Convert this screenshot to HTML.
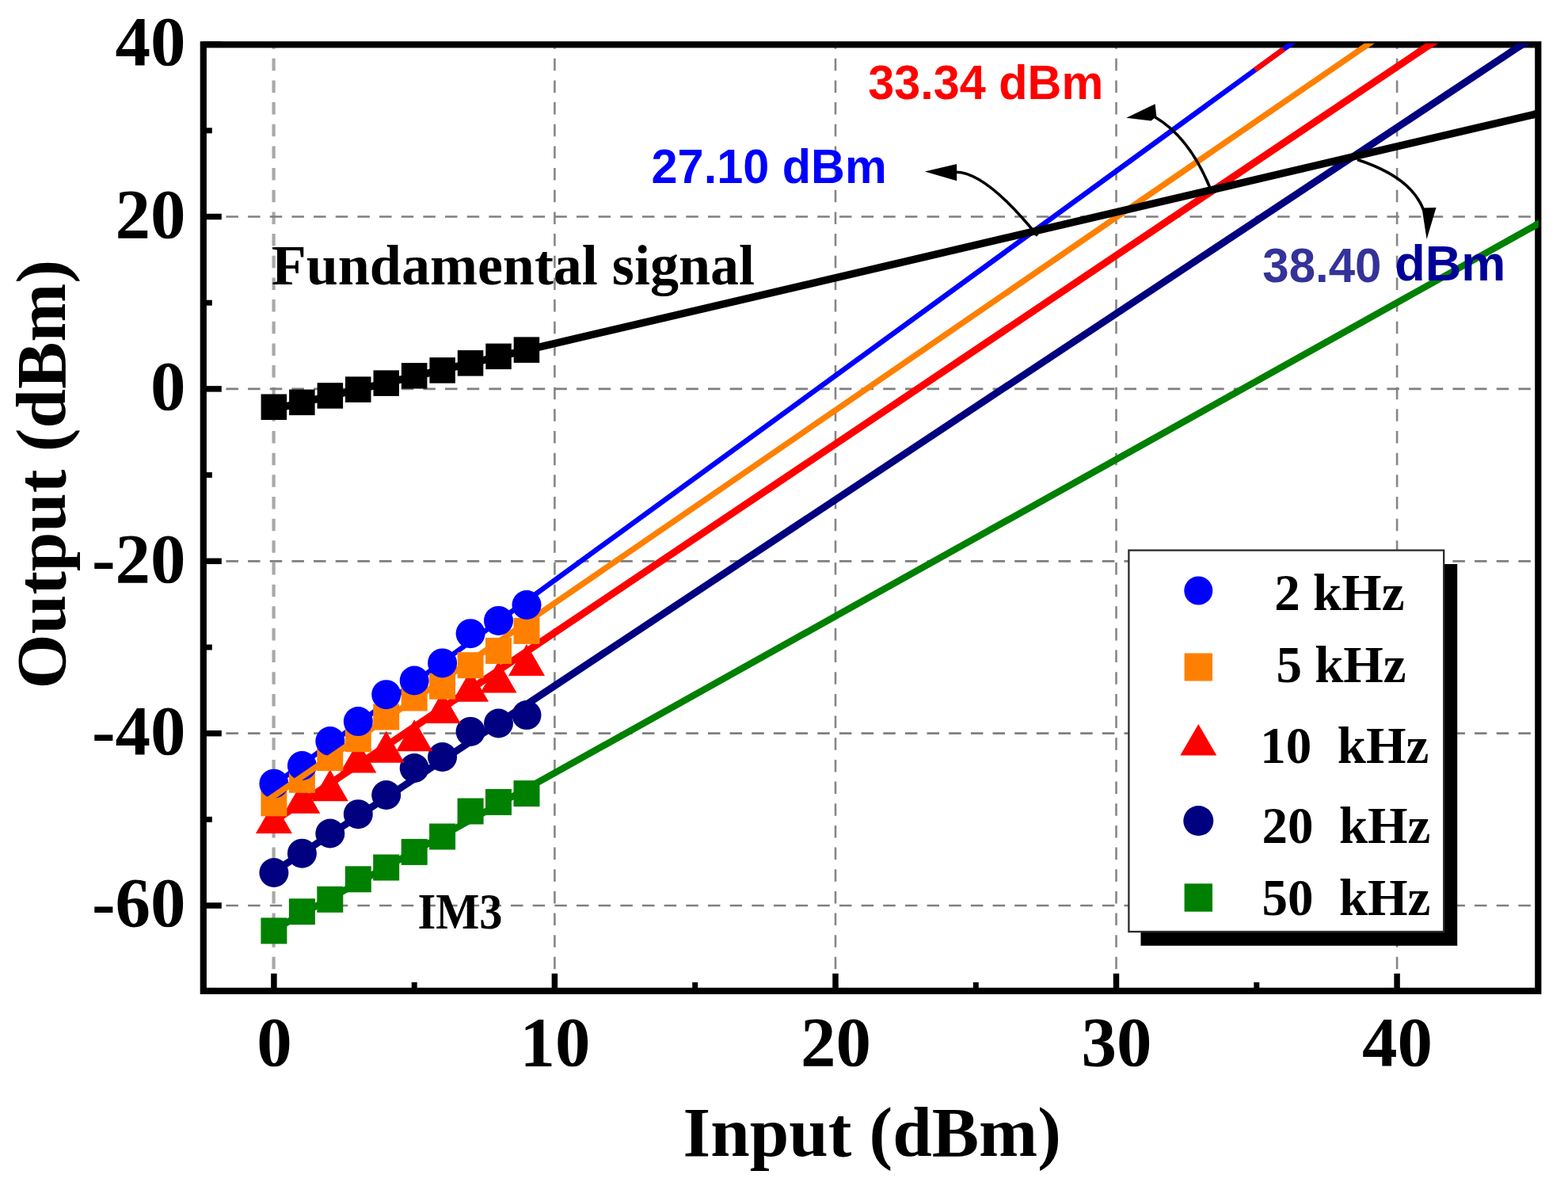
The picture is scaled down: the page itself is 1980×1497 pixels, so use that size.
<!DOCTYPE html><html><head><meta charset="utf-8"><style>html,body{margin:0;padding:0;background:#fff;overflow:hidden;}svg{display:block;}</style></head><body>
<svg width="1980" height="1497" viewBox="0 0 1980 1497">
<rect width="1980" height="1497" fill="#fff"/>
<g stroke="#868686" stroke-width="2.6" stroke-dasharray="15.5 12.16" stroke-dashoffset="10.16" fill="none"><line x1="700.4" y1="56.3" x2="700.4" y2="1250.8"/><line x1="1055.0" y1="56.3" x2="1055.0" y2="1250.8"/><line x1="1409.5" y1="56.3" x2="1409.5" y2="1250.8"/><line x1="1764.1" y1="56.3" x2="1764.1" y2="1250.8"/></g>
<line x1="345.6" y1="56.3" x2="345.6" y2="1250.8" stroke="#a8a8a8" stroke-width="4.2" stroke-dasharray="15.5 12.16" stroke-dashoffset="10.16"/>
<g stroke="#7f7f7f" stroke-width="2.7" stroke-dasharray="15.5 12.16" stroke-dashoffset="26.68" fill="none"><line x1="256.8" y1="273.5" x2="1942.3" y2="273.5"/><line x1="256.8" y1="490.9" x2="1942.3" y2="490.9"/><line x1="256.8" y1="708.3" x2="1942.3" y2="708.3"/><line x1="256.8" y1="925.7" x2="1942.3" y2="925.7"/><line x1="256.8" y1="1143.0" x2="1942.3" y2="1143.0"/></g>
<g stroke="#000" fill="none"><line x1="345.9" y1="1250.8" x2="345.9" y2="1228.8" stroke-width="7.5"/><line x1="700.4" y1="1250.8" x2="700.4" y2="1228.8" stroke-width="7.5"/><line x1="1055.0" y1="1250.8" x2="1055.0" y2="1228.8" stroke-width="7.5"/><line x1="1409.5" y1="1250.8" x2="1409.5" y2="1228.8" stroke-width="7.5"/><line x1="1764.1" y1="1250.8" x2="1764.1" y2="1228.8" stroke-width="7.5"/><line x1="523.2" y1="1250.8" x2="523.2" y2="1239.8" stroke-width="7"/><line x1="877.7" y1="1250.8" x2="877.7" y2="1239.8" stroke-width="7"/><line x1="1232.3" y1="1250.8" x2="1232.3" y2="1239.8" stroke-width="7"/><line x1="1586.8" y1="1250.8" x2="1586.8" y2="1239.8" stroke-width="7"/><line x1="256.8" y1="56.1" x2="279.8" y2="56.1" stroke-width="7.5"/><line x1="256.8" y1="273.5" x2="279.8" y2="273.5" stroke-width="7.5"/><line x1="256.8" y1="490.9" x2="279.8" y2="490.9" stroke-width="7.5"/><line x1="256.8" y1="708.3" x2="279.8" y2="708.3" stroke-width="7.5"/><line x1="256.8" y1="925.7" x2="279.8" y2="925.7" stroke-width="7.5"/><line x1="256.8" y1="1143.0" x2="279.8" y2="1143.0" stroke-width="7.5"/><line x1="256.8" y1="164.8" x2="267.8" y2="164.8" stroke-width="7"/><line x1="256.8" y1="382.2" x2="267.8" y2="382.2" stroke-width="7"/><line x1="256.8" y1="599.6" x2="267.8" y2="599.6" stroke-width="7"/><line x1="256.8" y1="817.0" x2="267.8" y2="817.0" stroke-width="7"/><line x1="256.8" y1="1034.3" x2="267.8" y2="1034.3" stroke-width="7"/></g>
<defs><clipPath id="plot"><rect x="256.8" y="54.8" width="1686.0" height="1196.0"/></clipPath><clipPath id="edge"><rect x="256.8" y="54.8" width="1685.5" height="8"/><rect x="1935.8" y="56.3" width="7" height="1194.5"/></clipPath></defs>
<g clip-path="url(#plot)"><line x1="345.9" y1="1173.5" x2="1948.3" y2="279.2" stroke="#008000" stroke-width="8.5"/><line x1="345.9" y1="1100.5" x2="1931.1" y2="50.3" stroke="#000080" stroke-width="9"/><line x1="345.9" y1="1036.6" x2="1814.7" y2="50.3" stroke="#ff0000" stroke-width="9"/><line x1="345.9" y1="1004.7" x2="1735.8" y2="50.3" stroke="#ff8000" stroke-width="7.5"/><line x1="345.9" y1="990.6" x2="1637.0" y2="50.3" stroke="#0000ff" stroke-width="6.5"/><line x1="1585" y1="88.2" x2="1621" y2="62.0" stroke="#ff0000" stroke-width="6.5"/><line x1="345.9" y1="516.4" x2="1948.3" y2="141.9" stroke="#000" stroke-width="9.5"/></g>
<g fill="#008000"><rect x="329.4" y="1158.4" width="33" height="33"/><rect x="364.9" y="1134.2" width="33" height="33"/><rect x="400.3" y="1118.8" width="33" height="33"/><rect x="435.8" y="1093.3" width="33" height="33"/><rect x="471.2" y="1078.5" width="33" height="33"/><rect x="506.7" y="1058.9" width="33" height="33"/><rect x="542.1" y="1039.5" width="33" height="33"/><rect x="577.6" y="1007.5" width="33" height="33"/><rect x="613.0" y="995.9" width="33" height="33"/><rect x="648.5" y="985.1" width="33" height="33"/></g>
<g fill="#000080"><circle cx="345.9" cy="1101.5" r="18.5"/><circle cx="381.4" cy="1077.2" r="18.5"/><circle cx="416.8" cy="1052.0" r="18.5"/><circle cx="452.3" cy="1027.7" r="18.5"/><circle cx="487.7" cy="1003.5" r="18.5"/><circle cx="523.2" cy="969.5" r="18.5"/><circle cx="558.6" cy="955.5" r="18.5"/><circle cx="594.1" cy="923.4" r="18.5"/><circle cx="629.5" cy="913.0" r="18.5"/><circle cx="665.0" cy="902.6" r="18.5"/></g>
<g fill="#ff0000"><path d="M345.9 1012.0L368.9 1052.0L322.9 1052.0Z"/><path d="M381.4 986.8L404.4 1026.8L358.4 1026.8Z"/><path d="M416.8 971.2L439.8 1011.2L393.8 1011.2Z"/><path d="M452.3 935.6L475.3 975.6L429.3 975.6Z"/><path d="M487.7 922.7L510.7 962.7L464.7 962.7Z"/><path d="M523.2 908.3L546.2 948.3L500.2 948.3Z"/><path d="M558.6 873.0L581.6 913.0L535.6 913.0Z"/><path d="M594.1 845.7L617.1 885.7L571.1 885.7Z"/><path d="M629.5 834.5L652.5 874.5L606.5 874.5Z"/><path d="M665.0 812.9L688.0 852.9L642.0 852.9Z"/></g>
<g fill="#ff8000"><rect x="329.4" y="997.3" width="33" height="33"/><rect x="364.9" y="967.8" width="33" height="33"/><rect x="400.3" y="940.1" width="33" height="33"/><rect x="435.8" y="916.2" width="33" height="33"/><rect x="471.2" y="888.5" width="33" height="33"/><rect x="506.7" y="864.5" width="33" height="33"/><rect x="542.1" y="849.7" width="33" height="33"/><rect x="577.6" y="823.2" width="33" height="33"/><rect x="613.0" y="805.0" width="33" height="33"/><rect x="648.5" y="779.9" width="33" height="33"/></g>
<g fill="#0000ff"><circle cx="345.9" cy="989.2" r="18.5"/><circle cx="381.4" cy="966.5" r="18.5"/><circle cx="416.8" cy="935.5" r="18.5"/><circle cx="452.3" cy="910.6" r="18.5"/><circle cx="487.7" cy="876.7" r="18.5"/><circle cx="523.2" cy="859.0" r="18.5"/><circle cx="558.6" cy="836.9" r="18.5"/><circle cx="594.1" cy="799.7" r="18.5"/><circle cx="629.5" cy="783.4" r="18.5"/><circle cx="665.0" cy="763.5" r="18.5"/></g>
<g fill="#000"><rect x="329.6" y="497.5" width="32.5" height="32.5"/><rect x="365.1" y="491.6" width="32.5" height="32.5"/><rect x="400.6" y="483.2" width="32.5" height="32.5"/><rect x="436.0" y="475.4" width="32.5" height="32.5"/><rect x="471.5" y="467.4" width="32.5" height="32.5"/><rect x="506.9" y="458.1" width="32.5" height="32.5"/><rect x="542.4" y="451.2" width="32.5" height="32.5"/><rect x="577.8" y="442.1" width="32.5" height="32.5"/><rect x="613.3" y="433.6" width="32.5" height="32.5"/><rect x="648.7" y="425.4" width="32.5" height="32.5"/></g>
<line x1="337.9" y1="1010.2" x2="452.3" y2="931.7" stroke="#ff8000" stroke-width="7.5"/>
<rect x="256.8" y="56.3" width="1685.5" height="1194.5" fill="none" stroke="#000" stroke-width="8.2"/>
<g clip-path="url(#edge)"><line x1="345.9" y1="1173.5" x2="1948.3" y2="279.2" stroke="#008000" stroke-width="8.5"/><line x1="345.9" y1="1100.5" x2="1931.1" y2="50.3" stroke="#000080" stroke-width="9"/><line x1="345.9" y1="1036.6" x2="1814.7" y2="50.3" stroke="#ff0000" stroke-width="9"/><line x1="345.9" y1="1004.7" x2="1735.8" y2="50.3" stroke="#ff8000" stroke-width="7.5"/><line x1="345.9" y1="990.6" x2="1637.0" y2="50.3" stroke="#0000ff" stroke-width="6.5"/><line x1="1585" y1="88.2" x2="1621" y2="62.0" stroke="#ff0000" stroke-width="6.5"/><line x1="345.9" y1="516.4" x2="1948.3" y2="141.9" stroke="#000" stroke-width="9.5"/></g>
<g fill="none" stroke="#000" stroke-width="3.6">
<path d="M1310 297.5Q1243.9 216.1 1206 217.3"/>
<path d="M1527.5 236Q1501.1 172.4 1458 147.5"/>
<path d="M1714 201.5Q1782.3 223.7 1797.5 265"/>
</g>
<g fill="#000">
<path d="M1167.7 216.4L1208.2 207L1208.2 228.2Z"/>
<path d="M1422.2 148.7L1458.6 131.3L1460.4 147L1453.5 152.5Z"/>
<path d="M1795.5 262.5L1813.5 262L1801.6 302Z"/>
</g>
<rect x="1440.5" y="712" width="399.7" height="481.7" fill="#000"/>
<rect x="1425.4" y="694.6" width="397.8" height="481.4" fill="#fff" stroke="#2a2a2a" stroke-width="2.3"/>
<circle cx="1513.3" cy="745.5" r="18" fill="#0000ff"/>
<rect x="1495.6" y="824.5" width="35.4" height="35" fill="#ff8000"/>
<path d="M1513.3 914.0L1536.3 953.5L1490.3 953.5Z" fill="#ff0000"/>
<circle cx="1513.3" cy="1036" r="19" fill="#000080"/>
<rect x="1495.6" y="1115.3" width="35.4" height="35.4" fill="#008000"/>
<g style="font-family:'Liberation Serif','Times New Roman',serif;font-weight:bold;font-size:65px" fill="#000">
<text x="1609.2" y="770.3">2 kHz</text>
<text x="1611.4" y="861">5 kHz</text>
<text x="1591.3" y="963.3" xml:space="preserve">10  kHz</text>
<text x="1593.4" y="1064" xml:space="preserve">20  kHz</text>
<text x="1593.4" y="1154.5" xml:space="preserve">50  kHz</text>
</g>
<g style="font-family:'Liberation Serif','Times New Roman',serif;font-weight:bold;font-size:89px" fill="#000" text-anchor="end">
<text x="234.6" y="82.3">40</text>
<text x="234.6" y="299.7">20</text>
<text x="234.6" y="517.1">0</text>
<text x="234.6" y="734.5">-20</text>
<text x="234.6" y="951.9">-40</text>
<text x="234.6" y="1169.2">-60</text>
</g>
<g style="font-family:'Liberation Serif','Times New Roman',serif;font-weight:bold;font-size:89px" fill="#000" text-anchor="middle">
<text x="346.4" y="1344.5">0</text>
<text x="700.9" y="1344.5">10</text>
<text x="1055.5" y="1344.5">20</text>
<text x="1410.0" y="1344.5">30</text>
<text x="1764.6" y="1344.5">40</text>
</g>
<text style="font-family:'Liberation Serif','Times New Roman',serif;font-weight:bold;font-size:89px" x="862.6" y="1459.4">Input (dBm)</text>
<text style="font-family:'Liberation Serif','Times New Roman',serif;font-weight:bold;font-size:89px" transform="translate(81.5 869.5) rotate(-90)">Output (dBm)</text>
<text style="font-family:'Liberation Serif','Times New Roman',serif;font-weight:bold;font-size:72px" x="342.8" y="358.5">Fundamental signal</text>
<text style="font-family:'Liberation Serif','Times New Roman',serif;font-weight:bold;font-size:64px" x="527.5" y="1171.8" textLength="107" lengthAdjust="spacingAndGlyphs">IM3</text>
<text style="font-family:'Liberation Sans',Arial,sans-serif;font-weight:bold;font-size:61px" fill="#0000ff" x="822.6" y="231.2" textLength="297.1" lengthAdjust="spacingAndGlyphs">27.10 dBm</text>
<text style="font-family:'Liberation Sans',Arial,sans-serif;font-weight:bold;font-size:61px" fill="#ff0000" x="1096.2" y="125.3" textLength="297.1" lengthAdjust="spacingAndGlyphs">33.34 dBm</text>
<text style="font-family:'Liberation Sans',Arial,sans-serif;font-weight:bold;font-size:61.5px" fill="#333399" x="1594.3" y="356.1" textLength="150.1" lengthAdjust="spacingAndGlyphs">38.40</text>
<text style="font-family:'Liberation Sans',Arial,sans-serif;font-weight:bold;font-size:63px" fill="#000099" x="1761.3" y="353.6">dBm</text>
</svg></body></html>
